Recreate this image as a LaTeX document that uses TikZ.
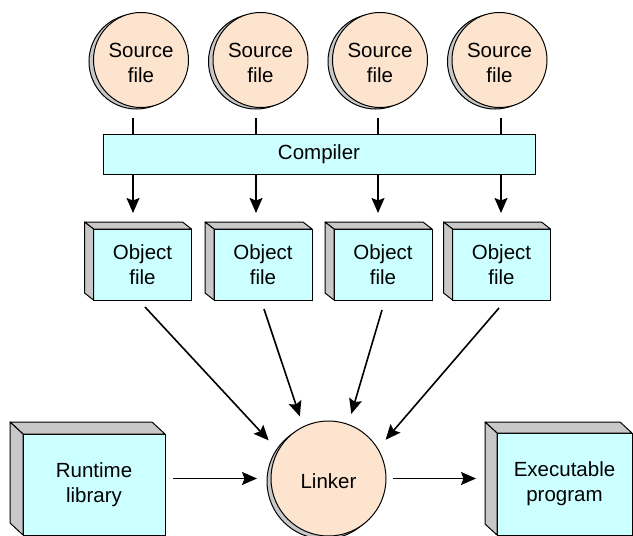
\documentclass[tikz,border=0pt]{standalone}
\usepackage{fontspec}
\setmainfont{Liberation Sans}
\usetikzlibrary{arrows.meta}
\definecolor{peach}{RGB}{253,228,206}
\definecolor{aqua}{RGB}{204,255,255}
\definecolor{shade}{RGB}{200,200,200}
\newcommand\depthfaces[3]{%
  \filldraw[fill=shade, line width=1pt, line join=round]
    (#1.north west) -- ++(-#2pt,#3pt) -- ([shift={(-#2pt,#3pt)}]#1.north east) -- (#1.north east) -- cycle;
  \filldraw[fill=shade, line width=1pt, line join=round]
    (#1.north west) -- ++(-#2pt,#3pt) -- ([shift={(-#2pt,#3pt)}]#1.south west) -- (#1.south west) -- cycle;
}
\begin{document}
\begin{tikzpicture}[x=1pt,y=-1pt,
  lbl/.style={font=\fontsize{20.5}{25}\selectfont, align=center},
  disc/.style={circle, draw, line width=1pt, fill=peach, inner sep=0pt, outer sep=0pt},
  slab/.style={lbl, rectangle, draw, line width=1pt, fill=aqua, inner sep=0pt, outer sep=0pt},
  arr/.style={line width=1.6pt, -{Stealth[length=15pt,width=13pt,inset=2.5pt]}},
  wire/.style={line width=1.6pt}]
\useasboundingbox (0,0) rectangle (633,536);

% source files
\foreach \x/\n in {141/s1, 260.5/s2, 380/s3, 499.5/s4}{
  \filldraw[fill=shade, line width=1pt] (\x-4.5,61.5) circle (47.5);
  \node[disc, minimum size=95pt] (\n) at (\x,60) {};
  \node[lbl] (\n t) at ([yshift=-3pt]\n.center) {Source\\file};
}

% compiler
\node[slab, minimum width=432pt, minimum height=40pt] (cp) at (319,154) {Compiler};

% object files
\node[slab, minimum width=98pt, minimum height=71pt] (o1) at (142.5,264.5) {Object\\file};
\node[slab, minimum width=98pt, minimum height=71pt] (o2) at (263,264.5) {Object\\file};
\node[slab, minimum width=98pt, minimum height=71pt] (o3) at (383,264.5) {Object\\file};
\node[slab, minimum width=98pt, minimum height=71pt] (o4) at (501.5,264.5) {Object\\file};
\depthfaces{o1}{9}{7}
\depthfaces{o2}{9}{7}
\depthfaces{o3}{9}{7}
\depthfaces{o4}{9}{7}

% runtime library and executable
\node[slab, minimum width=142pt, minimum height=101pt] (rt) at (94,484.5) {Runtime\\library};
\depthfaces{rt}{13}{12}
\node[slab, minimum width=135pt, minimum height=102pt] (ex) at (564.5,484) {Executable\\program};
\depthfaces{ex}{12}{11}

% linker
\filldraw[fill=shade, line width=1pt] (324.5,481.5) circle (57.5);
\node[disc, minimum size=115pt] (lk) at (328.5,478.5) {};
\node[lbl] (lkt) at ([yshift=-3pt]lk.center) {Linker};

% source -> compiler -> object
\coordinate (t1) at (133,118);
\coordinate (t2) at (256,118);
\coordinate (t3) at (378,118);
\coordinate (t4) at (501,118);
\draw[wire] (t1) -- (t1 |- cp.north);
\draw[wire] (t2) -- (t2 |- cp.north);
\draw[wire] (t3) -- (t3 |- cp.north);
\draw[wire] (t4) -- (t4 |- cp.north);
\draw[arr, shorten >=16pt] (t1 |- cp.south) -- (t1 |- o1.north);
\draw[arr, shorten >=16pt] (t2 |- cp.south) -- (t2 |- o2.north);
\draw[arr, shorten >=16pt] (t3 |- cp.south) -- (t3 |- o3.north);
\draw[arr, shorten >=16pt] (t4 |- cp.south) -- (t4 |- o4.north);

% object -> linker
\coordinate (b1) at (145,307);
\coordinate (b2) at (264,309);
\coordinate (b3) at (382,310);
\coordinate (b4) at (499,308);
\draw[arr, shorten >=14pt] (b1) -- (lk.151);
\draw[arr, shorten >=11pt] (b2) -- (lk.116);
\draw[arr, shorten >=11pt] (b3) -- (lk.70);
\draw[arr, shorten >=12pt] (b4) -- (lk.31);

% runtime -> linker -> executable
\draw[arr, shorten <=8pt, shorten >=14pt] (rt.east |- lk.center) -- (lk.west);
\draw[arr, shorten <=7pt, shorten >=21pt] (lk.east) -- (lk.east -| ex.west);
\end{tikzpicture}
\end{document}
